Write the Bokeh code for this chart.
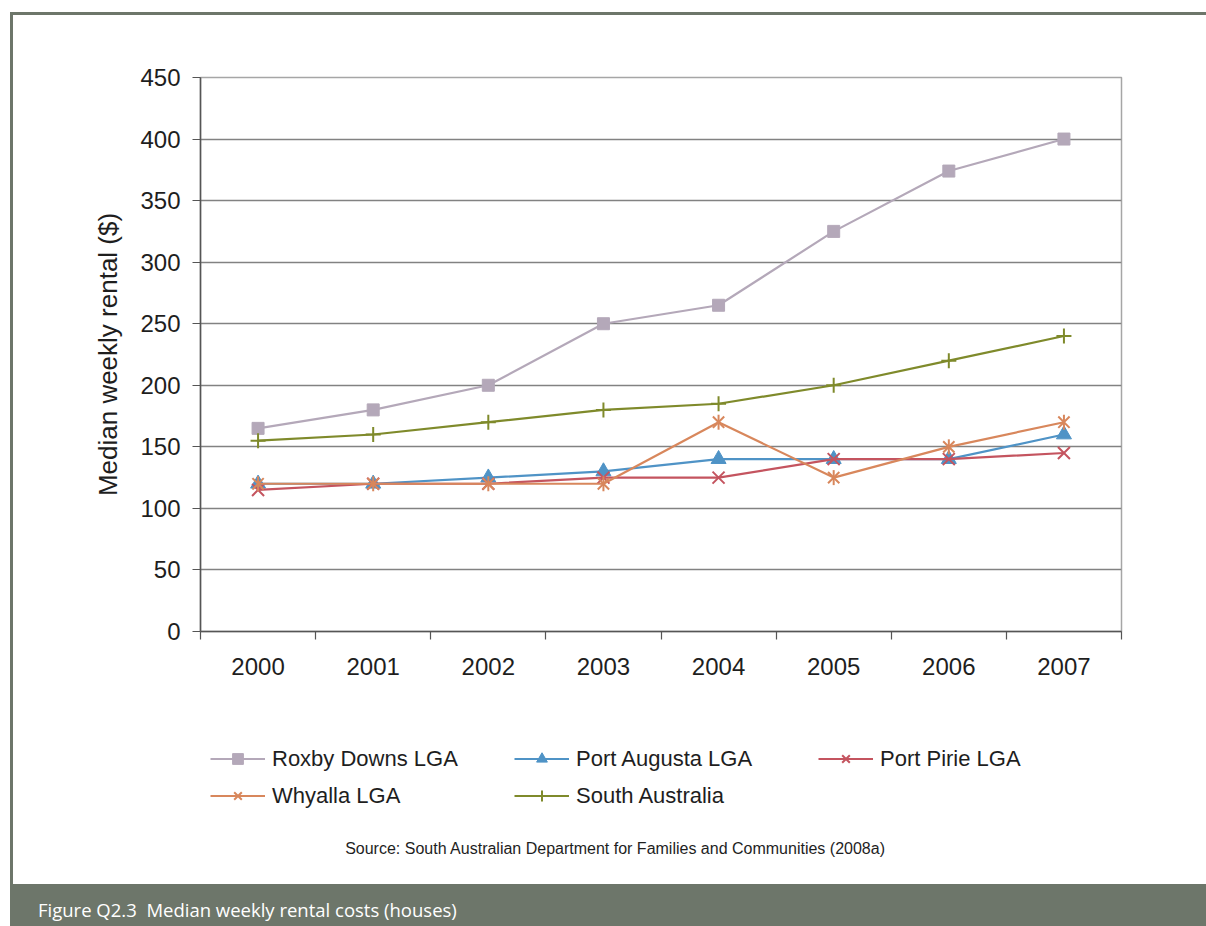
from bokeh.plotting import figure
from bokeh.models import (Range1d, LinearAxis, FixedTicker, Legend, LegendItem, Label, Div)
from bokeh.layouts import column, row
from bokeh.embed import file_html
from bokeh.resources import INLINE
import math

# Median weekly rental ($) by year
years = ["2000", "2001", "2002", "2003", "2004", "2005", "2006", "2007"]
roxby_downs = [165, 180, 200, 250, 265, 325, 374, 400]
port_augusta = [120, 120, 125, 130, 140, 140, 140, 160]
port_pirie = [115, 120, 120, 125, 125, 140, 140, 145]
whyalla = [120, 120, 120, 120, 170, 125, 150, 170]
south_australia = [155, 160, 170, 180, 185, 200, 220, 240]

y_ticks = [0, 50, 100, 150, 200, 250, 300, 350, 400, 450]

FONT = "Liberation Sans"
FRAME = "#6d766a"
TEXT = "#1e1e1e"

PW = 1193            # width inside the page frame
CH, LH = 685, 184    # chart canvas and legend/source strip heights

# each year occupies one unit-wide slot; points sit at the slot centres
xpos = [i + 0.5 for i in range(len(years))]
edges = list(range(len(years) + 1))

p = figure(width=PW, height=CH, x_range=Range1d(0, len(years)), y_range=Range1d(0, 450),
           output_backend="svg", toolbar_location=None,
           x_axis_location=None, y_axis_location=None,
           min_border_left=187, min_border_right=85, min_border_top=62,
           min_border_bottom=69, margin=0)
p.background_fill_color = "white"
p.border_fill_color = "white"
p.outline_line_color = "#a6a6a6"
p.outline_line_width = 1.5
p.xgrid.grid_line_color = None
p.ygrid.grid_line_color = "#828282"
p.ygrid.grid_line_width = 1.3
p.ygrid.ticker = FixedTicker(ticks=y_ticks)

# y axis
ya = LinearAxis(ticker=FixedTicker(ticks=y_ticks))
ya.axis_line_color = "#555555"
ya.axis_line_width = 1.5
ya.major_tick_line_color = "#555555"
ya.major_tick_out = 8
ya.major_tick_in = 0
ya.minor_tick_line_color = None
ya.major_label_text_font = FONT
ya.major_label_text_font_size = "24px"
ya.major_label_text_color = TEXT
ya.major_label_standoff = 12
ya.axis_label = "Median weekly rental ($)"
ya.axis_label_text_font = FONT
ya.axis_label_text_font_size = "26px"
ya.axis_label_text_font_style = "normal"
ya.axis_label_text_color = TEXT
ya.axis_label_standoff = 14
p.add_layout(ya, "left")

# x axis: year labels at slot centres, tick marks at slot boundaries
xa = LinearAxis(ticker=FixedTicker(ticks=xpos, minor_ticks=edges))
xa.major_label_overrides = {x: y for x, y in zip(xpos, years)}
xa.axis_line_color = "#555555"
xa.axis_line_width = 1.5
xa.major_tick_line_color = None
xa.major_tick_out = 8
xa.major_tick_in = 0
xa.minor_tick_line_color = "#555555"
xa.minor_tick_line_width = 1.2
xa.minor_tick_out = 8
xa.minor_tick_in = 0
xa.major_label_text_font = FONT
xa.major_label_text_font_size = "24px"
xa.major_label_text_color = TEXT
xa.major_label_standoff = 18
p.add_layout(xa, "below")

series = [
    ("Roxby Downs LGA", roxby_downs, "#b4a8b9", "square", 12),
    ("Port Augusta LGA", port_augusta, "#4f93c6", "triangle", 15),
    ("Port Pirie LGA", port_pirie, "#c4545f", "x", 17),
    ("Whyalla LGA", whyalla, "#d8875c", "x", 16),
    ("South Australia", south_australia, "#7f8a2b", "cross", 15),
]

# legend / source strip under the chart; its ranges keep the series out of view
lg = figure(width=PW, height=LH, x_range=Range1d(0, 1), y_range=Range1d(0, 1),
            output_backend="svg", toolbar_location=None,
            x_axis_location=None, y_axis_location=None,
            min_border=0, margin=0)
lg.outline_line_color = None
lg.grid.grid_line_color = None
lg.background_fill_color = "white"
lg.border_fill_color = "white"


def draw(fig, xs, ys, color, marker, size, name):
    rs = [fig.line(xs, ys, line_color=color, line_width=2.2)]
    if marker == "x":
        rs.append(fig.scatter(xs, ys, marker="x", size=size, line_color=color, line_width=2))
        if name == "Whyalla LGA":
            rs.append(fig.scatter(xs, ys, marker="dash", angle=math.pi / 2, size=size - 1,
                                  line_color=color, line_width=2))
    elif marker == "cross":
        rs.append(fig.scatter(xs, ys, marker="cross", size=size, line_color=color, line_width=2))
    else:
        rs.append(fig.scatter(xs, ys, marker=marker, size=size, fill_color=color,
                              line_color=color, line_width=1))
    return rs


items = []
for name, vals, color, marker, size in series:
    draw(p, xpos, vals, color, marker, size, name)
    items.append(LegendItem(label=name, renderers=draw(lg, xpos, vals, color, marker, size, name)))

legend = Legend(items=items, orientation="horizontal", ncols=3, location=(10, 75))
legend.label_text_font = FONT
legend.label_text_font_size = "22px"
legend.label_text_color = TEXT
legend.glyph_width = 55
legend.glyph_height = 27
legend.label_standoff = 7
legend.label_width = 232
legend.spacing = 10
legend.padding = 10
legend.margin = 0
legend.border_line_color = None
legend.background_fill_alpha = 0
lg.add_layout(legend, "center")

lg.add_layout(Label(x=415, y=36, x_units="screen", y_units="screen",
                    text="Source: South Australian Department for Families and Communities (2008a)",
                    text_font=FONT, text_font_size="16px", text_color=TEXT,
                    text_align="center", text_baseline="middle"))

# page frame: top rule, left rule and caption bar
top_rule = Div(width=1196, height=3, margin=0, styles={"background-color": FRAME})
left_rule = Div(width=3, height=CH + LH, margin=0, styles={"background-color": FRAME})
caption = Div(text="Figure Q2.3  Median weekly rental costs (houses)",
              width=1196, height=42, margin=0,
              styles={"background-color": FRAME, "color": "white",
                      "font-family": "Open Sans", "font-size": "18.5px",
                      "white-space": "pre", "padding-left": "28px",
                      "padding-top": "14px", "box-sizing": "border-box",
                      "line-height": "24px"})

page = column(top_rule,
              row(left_rule, column(p, lg, spacing=0, margin=0), spacing=0, margin=0),
              caption, spacing=0, margin=(12, 0, 0, 10))

open("out.html", "w").write(file_html(page, INLINE))
